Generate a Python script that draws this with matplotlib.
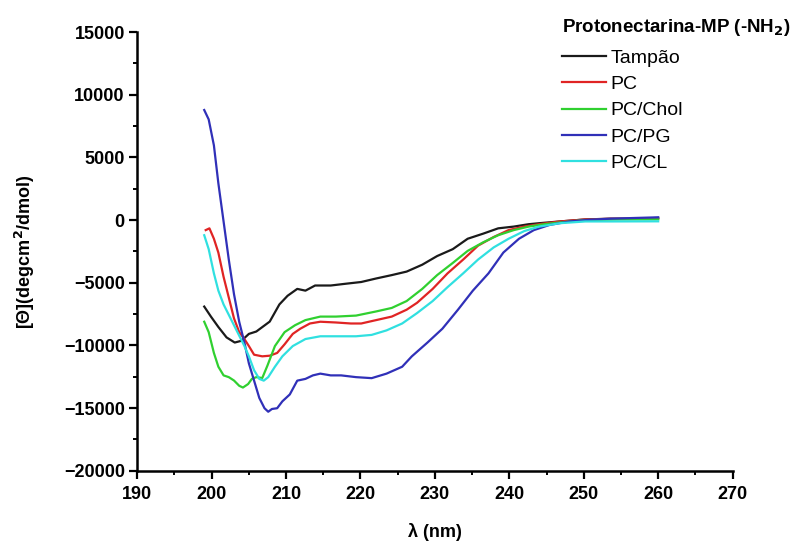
import matplotlib
matplotlib.use('Agg')
import matplotlib.pyplot as plt
from matplotlib.ticker import MultipleLocator

plt.rcParams['font.family'] = ['Liberation Sans', 'DejaVu Sans']

# CD spectra (wavelength nm, ellipticity)
tampao_x = [199.0, 199.9, 200.9, 202.0, 203.1, 204.0, 205.0, 206.0, 207.8, 209.1, 210.2, 211.5,
            212.6, 213.9, 216.0, 218.0, 220.1, 222.1, 224.2, 226.2, 228.3, 230.3, 232.4, 234.4,
            236.5, 238.5, 240.6, 242.6, 244.0, 246.8, 250.2, 253.6, 257.0, 260.0]
tampao_y = [-6900, -7700, -8530, -9360, -9770, -9630, -9080, -8890, -8100, -6730, -6040, -5490,
            -5630, -5220, -5220, -5080, -4940, -4660, -4390, -4110, -3560, -2870, -2320, -1490,
            -1080, -660, -520, -330, -250, -110, 50, 110, 110, 170]

pc_x = [199.2, 199.7, 200.3, 200.9, 201.6, 202.3, 203.0, 203.7, 204.4, 205.0, 205.7, 206.8,
        207.8, 208.8, 209.8, 210.9, 211.9, 213.2, 214.6, 216.7, 218.7, 220.1, 222.1, 224.2,
        226.2, 227.6, 229.7, 231.7, 233.8, 235.8, 237.9, 239.9, 242.0, 244.0, 246.8, 250.2,
        253.6, 260.0]
pc_y = [-800, -660, -1490, -2600, -4530, -6180, -7840, -8940, -9490, -10050, -10740, -10870,
        -10820, -10600, -9910, -9080, -8670, -8250, -8110, -8170, -8250, -8250, -7980, -7700,
        -7150, -6600, -5490, -4250, -3150, -2040, -1350, -800, -520, -330, -110, 50,
        100, 100]

chol_x = [199.0, 199.6, 200.3, 200.9, 201.6, 202.3, 203.0, 203.7, 204.2, 204.9, 205.4, 206.0,
          206.8, 207.5, 208.5, 209.8, 211.2, 212.6, 214.6, 216.7, 219.4, 222.1, 224.2, 226.2,
          228.3, 230.3, 232.4, 234.4, 236.5, 238.5, 240.6, 242.6, 244.7, 246.8, 250.0, 255.0,
          260.0]
chol_y = [-8110, -8940, -10600, -11700, -12390, -12530, -12800, -13220, -13360, -13080, -12670, -12530,
          -12600, -11600, -10050, -8940, -8390, -7980, -7700, -7700, -7620, -7290, -7010, -6460,
          -5490, -4390, -3420, -2460, -1770, -1210, -800, -520, -330, -190, 0, 50,
          60]

pg_x = [199.0, 199.6, 200.3, 200.9, 201.6, 202.3, 203.0, 203.7, 204.4, 205.0, 205.7, 206.4,
        207.1, 207.6, 208.1, 208.8, 209.5, 210.5, 211.5, 212.6, 213.6, 214.6, 216.0, 217.4,
        219.4, 221.5, 223.5, 225.6, 226.9, 229.0, 231.0, 233.1, 235.1, 237.2, 239.2, 241.3,
        243.3, 245.4, 248.1, 250.9, 253.6, 257.0, 260.0]
pg_y = [8780, 8030, 5960, 2930, -110, -3150, -5910, -8110, -9770, -11430, -12810, -14190,
        -15010, -15290, -15070, -15010, -14460, -13910, -12810, -12670, -12390, -12250, -12390, -12390,
        -12530, -12610, -12250, -11700, -10870, -9770, -8670, -7150, -5630, -4250, -2590, -1490,
        -800, -390, -110, 30, 110, 170, 220]

cl_x = [199.0, 199.6, 200.3, 200.9, 201.6, 202.3, 203.0, 203.7, 204.4, 205.0, 205.7, 206.4,
        207.0, 207.6, 208.5, 209.5, 210.9, 212.6, 214.6, 216.7, 219.4, 221.5, 223.5, 225.6,
        227.6, 229.7, 231.7, 233.8, 235.8, 237.9, 239.9, 242.0, 244.0, 246.8, 250.2, 253.6,
        260.0]
cl_y = [-1210, -2320, -4250, -5630, -6730, -7560, -8390, -9220, -10050, -10870, -11980, -12670,
        -12810, -12530, -11700, -10870, -10050, -9490, -9270, -9270, -9270, -9160, -8800, -8250,
        -7420, -6460, -5350, -4250, -3150, -2180, -1490, -880, -520, -250, -110, -110,
        -100]

series = [
    ('Tampão', tampao_x, tampao_y, '#1a1a1a'),
    ('PC', pc_x, pc_y, '#e02424'),
    ('PC/Chol', chol_x, chol_y, '#30d030'),
    ('PC/PG', pg_x, pg_y, '#3030b8'),
    ('PC/CL', cl_x, cl_y, '#30e0e0'),
]

fig = plt.figure(figsize=(7.98, 5.43), dpi=100)
ax = fig.add_axes([0.172, 0.133, 0.746, 0.808])

for name, xs, ys, col in series:
    ax.plot(xs, ys, color=col, lw=1.6, label=name)

ax.set_xlim(190, 270)
ax.set_ylim(-20000, 15000)
ax.xaxis.set_major_locator(MultipleLocator(10))
ax.xaxis.set_minor_locator(MultipleLocator(5))
ax.yaxis.set_major_locator(MultipleLocator(5000))
ax.yaxis.set_minor_locator(MultipleLocator(2500))

for s in ['top', 'right']:
    ax.spines[s].set_visible(False)
for s in ['left', 'bottom']:
    ax.spines[s].set_linewidth(1.8)

ax.tick_params(which='major', direction='out', length=6, width=1.6, labelsize=13, pad=3)
ax.tick_params(axis='x', which='major', pad=5)
ax.tick_params(which='minor', direction='out', length=3, width=1.4)
for lab in ax.get_xticklabels() + ax.get_yticklabels():
    lab.set_fontweight('bold')

ax.set_xlabel('λ (nm)', fontsize=13, fontweight='bold', labelpad=14)
ax.set_ylabel('[Θ](degcm$^{\\mathbf{2}}$/dmol)', fontsize=13, fontweight='bold', labelpad=19)

leg = ax.legend(loc='upper left', bbox_to_anchor=(0.688, 0.992), bbox_transform=fig.transFigure,
                frameon=False, fontsize=14, handlelength=2.3, handletextpad=0.2,
                labelspacing=0.45, borderaxespad=0.25,
                title='Protonectarina-MP (-NH$_{\\mathbf{2}}$)',
                title_fontproperties={'weight': 'bold', 'size': 13.5})
leg._legend_box.align = 'left'
leg._legend_box.sep = 8

fig.savefig('out.png', dpi=100)
